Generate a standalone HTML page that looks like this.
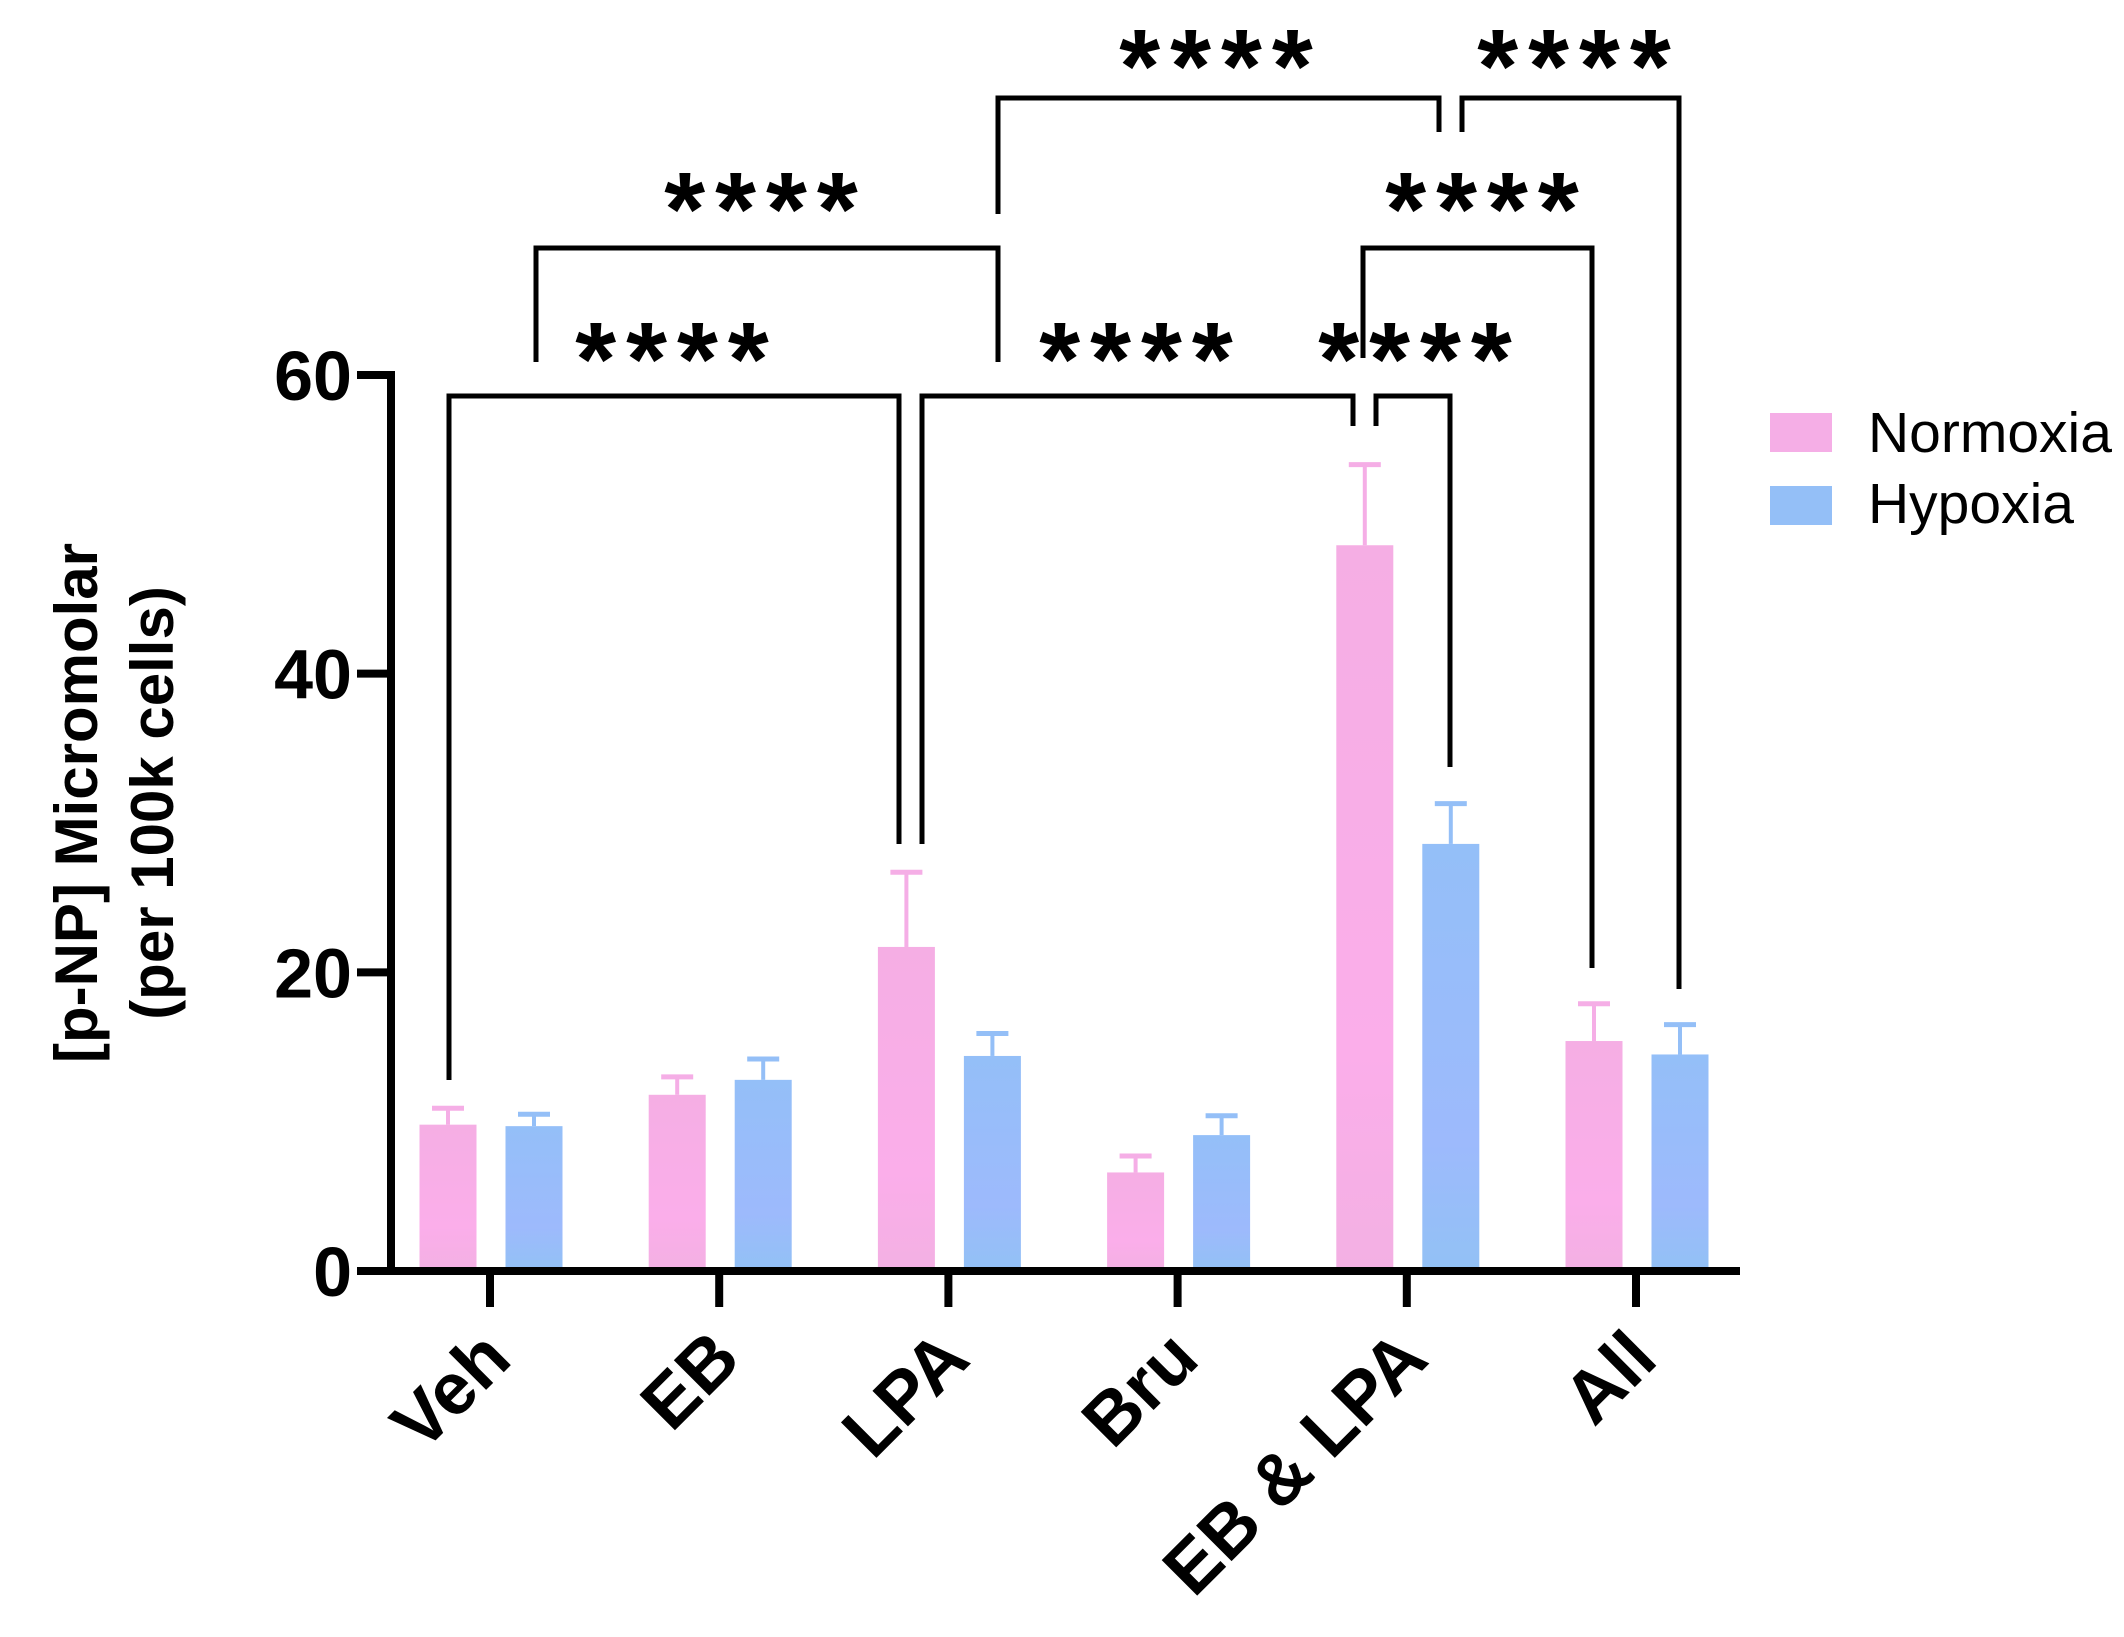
<!DOCTYPE html>
<html><head><meta charset="utf-8">
<style>
html,body{margin:0;padding:0;background:#fff;}
svg{display:block;font-family:"Liberation Sans",Arial,sans-serif;}
</style></head>
<body>
<svg id="chart" width="2124" height="1637" viewBox="0 0 2124 1637" xmlns="http://www.w3.org/2000/svg">
<defs>
<linearGradient id="gp" x1="0" y1="0" x2="0" y2="1"><stop offset="0" stop-color="#f5aee4"/><stop offset="0.7" stop-color="#fbaeea"/><stop offset="1" stop-color="#f3b0e3"/></linearGradient>
<linearGradient id="gb" x1="0" y1="0" x2="0" y2="1"><stop offset="0" stop-color="#94bff8"/><stop offset="0.7" stop-color="#9dbafc"/><stop offset="1" stop-color="#92c1f5"/></linearGradient>
</defs>
<g id="marks"></g>
<g id="axes"></g>
<g id="brackets"></g>
<g>
  <rect x="1770" y="413" width="62" height="39" fill="#f5aee6"/>
  <text x="1868" y="452" font-size="57" fill="#000">Normoxia</text>
  <rect x="1770" y="486" width="62" height="39" fill="#94bff7"/>
  <text x="1868" y="523" font-size="57" fill="#000">Hypoxia</text>
</g>
<g transform="translate(115,803) rotate(-90)">
  <text x="0" y="-18" text-anchor="middle" font-size="60" font-weight="bold">[p-NP] Micromolar</text>
  <text x="0" y="58" text-anchor="middle" font-size="60" font-weight="bold">(per 100k cells)</text>
</g>
</svg>
<script>
const categories = ["Veh","EB","LPA","Bru","EB & LPA","All"];
const normoxia = [9.8, 11.8, 21.7, 6.6, 48.6, 15.4];
const normoxiaErr = [1.1, 1.2, 5.0, 1.1, 5.4, 2.5];
const hypoxia = [9.7, 12.8, 14.4, 9.1, 28.6, 14.5];
const hypoxiaErr = [0.8, 1.4, 1.5, 1.3, 2.7, 2.0];
const yTicks = [0, 20, 40, 60];

const NS = "http://www.w3.org/2000/svg";
const Y0 = 1271, Y60 = 375, XL = 391, XR = 1740;
function y(v){ return Y0 - (Y0 - Y60) * v / 60; }
function xc(i){ return 490 + i * 229.2; }
function mk(tag, attrs, parent){ const e = document.createElementNS(NS, tag); for (const k in attrs) e.setAttribute(k, attrs[k]); parent.appendChild(e); return e; }

const marks = document.getElementById('marks');
const BW = 57;
function drawBar(i, v, err, off, fill, col, nm){
  const cx = xc(i) + off;
  mk('line', {x1:cx, x2:cx, y1:y(v), y2:y(v+err), stroke:col, 'stroke-width':4}, marks);
  const cap = mk('line', {x1:cx-16, x2:cx+16, y1:y(v+err), y2:y(v+err), stroke:col, 'stroke-width':5}, marks);
  
  
  const r = mk('rect', {x:cx-BW/2, y:y(v), width:BW, height:Y0-y(v), fill:fill}, marks);
  
  
}
categories.forEach((c, i) => {
  drawBar(i, normoxia[i], normoxiaErr[i], -42, 'url(#gp)', '#f5aee6', 'normoxia');
  drawBar(i, hypoxia[i], hypoxiaErr[i], 44, 'url(#gb)', '#94bff7', 'hypoxia');
});

const axes = document.getElementById('axes');
const ya = mk('line', {x1:XL, x2:XL, y1:Y60-4, y2:Y0+4, stroke:'#000', 'stroke-width':8}, axes);


const xa = mk('line', {x1:XL-4, x2:XR, y1:Y0, y2:Y0, stroke:'#000', 'stroke-width':8}, axes);


yTicks.forEach(t => {
  mk('line', {x1:357, x2:XL, y1:y(t), y2:y(t), stroke:'#000', 'stroke-width':8}, axes);
  const tx = mk('text', {x:352, y:y(t)+25, 'text-anchor':'end', 'font-size':70, 'font-weight':'bold'}, axes);
  tx.textContent = t;
  
  
});
categories.forEach((c, i) => {
  mk('line', {x1:xc(i), x2:xc(i), y1:Y0, y2:Y0+36, stroke:'#000', 'stroke-width':8}, axes);
  const ax = xc(i) + 24, ay = 1362;
  const tx = mk('text', {x:ax, y:ay, 'text-anchor':'end', 'font-size':73, 'font-weight':'bold', transform:'rotate(-45 ' + ax + ' ' + ay + ')'}, axes);
  tx.textContent = c;
  
  
});

// significance brackets: [x-left, y-left-end, x-right, y-right-end, y-top, star-x, star-y]
const brackets = [
  [449,1080, 899,844, 396, 677,395],
  [922,844, 1353,426, 396, 1141,395],
  [1376,426, 1450,767, 396, 1420,395],
  [536,362, 998,362, 248, 766,245],
  [1363,358, 1592,968, 248, 1487,245],
  [998,214, 1439,132, 98, 1221,102],
  [1462,132, 1679,989, 98, 1579,102]
];
const bg = document.getElementById('brackets');
brackets.forEach((b, k) => {
  const p = mk('polyline', {points: b[0]+','+b[1]+' '+b[0]+','+b[4]+' '+b[2]+','+b[4]+' '+b[2]+','+b[3], fill:'none', stroke:'#000', 'stroke-width':5}, bg);
  
  
  const s = mk('text', {x:b[5], y:b[6], 'text-anchor':'middle', 'font-size':105, 'font-weight':'bold', 'letter-spacing':10}, bg);
  s.textContent = '****';
  
  
});
</script>
</body></html>
